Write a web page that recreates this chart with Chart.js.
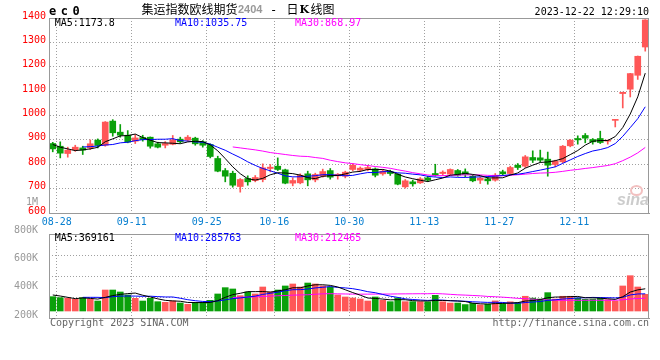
<!DOCTYPE html>
<html><head><meta charset="utf-8">
<script src="https://cdn.jsdelivr.net/npm/chart.js@4.4.0/dist/chart.umd.min.js"></script>
<style>
html,body{margin:0;padding:0;background:#fff;}
#wrap{position:relative;width:660px;height:360px;overflow:hidden;background:#fff;}
canvas{position:absolute;left:0;}
.t{position:absolute;white-space:pre;font-family:'DejaVu Sans Mono',monospace;font-size:10px;line-height:10px;color:#000;}
.cjk{position:absolute;white-space:pre;font-family:'Noto Sans CJK SC',sans-serif;font-size:12px;line-height:12px;color:#000;}
</style></head><body>
<div id="wrap">
<canvas id="kc" width="660" height="230" style="top:0;width:660px;height:230px"></canvas>
<canvas id="vc" width="660" height="150" style="top:190px;width:660px;height:150px"></canvas>
<div class="t" style="left:49px;top:5px;font-size:12px;line-height:12px;font-weight:bold;letter-spacing:4.5px">ec0</div>
<div class="cjk" style="left:141.5px;top:2.5px">集运指数欧线期货</div>
<div class="t" style="left:238px;top:4px;font-family:'Liberation Sans',sans-serif;font-size:11px;line-height:11px;font-weight:bold;color:#999">2404</div>
<div class="t" style="left:270px;top:4px;font-size:12px;line-height:12px">-</div>
<div class="cjk" style="left:286.5px;top:2.5px">日</div>
<div class="t" style="left:299.5px;top:3.5px;font-family:'DejaVu Serif',serif;font-size:11px;line-height:12px;font-weight:bold">K</div>
<div class="cjk" style="left:310.5px;top:2.5px">线图</div>
<div class="t" id="date" style="right:11px;top:6.5px"></div>
<div class="t" id="pl0" style="left:54.7px;top:18.2px"></div>
<div class="t" id="pl1" style="left:175px;top:18.2px;color:#0000ff"></div>
<div class="t" id="pl2" style="left:295px;top:18.2px;color:#ff00ff"></div>
<div class="t" id="vl0" style="left:54.7px;top:233.2px"></div>
<div class="t" id="vl1" style="left:175px;top:233.2px;color:#0000ff"></div>
<div class="t" id="vl2" style="left:295px;top:233.2px;color:#ff00ff"></div>
<div class="t" id="copy" style="left:50px;top:318.2px;color:#666"></div>
<div class="t" id="url" style="right:11px;top:318.2px;color:#666"></div>
<div style="position:absolute;left:630px;top:185px;width:9px;height:7px;border:2px solid #f2c0c0;border-radius:50%"></div>
<div class="t" style="left:617px;top:193px;font-family:'Liberation Sans',sans-serif;font-size:16px;line-height:14px;font-weight:bold;font-style:italic;color:#cccccc">sina</div>
</div>
<script>
const categories = ['08-25','08-28','08-29','08-30','08-31','09-01','09-04','09-05','09-06','09-07','09-08','09-11','09-12','09-13','09-14','09-15','09-18','09-19','09-20','09-21','09-22','09-25','09-26','09-27','09-28','10-09','10-10','10-11','10-12','10-13','10-16','10-17','10-18','10-19','10-20','10-23','10-24','10-25','10-26','10-27','10-30','10-31','11-01','11-02','11-03','11-06','11-07','11-08','11-09','11-10','11-13','11-14','11-15','11-16','11-17','11-20','11-21','11-22','11-23','11-24','11-27','11-28','11-29','11-30','12-01','12-04','12-05','12-06','12-07','12-08','12-11','12-12','12-13','12-14','12-15','12-18','12-19','12-20','12-21','12-22'];
const tickLabels = ['08-28','09-11','09-25','10-16','10-30','11-13','11-27','12-11'];
const priceTicks = [600,700,800,900,1000,1100,1200,1300,1400];
const volTickValues = [1000,800,600,400,200];
const volTickLabels = ['1M','800K','600K','400K','200K'];

const open = [885,874,844,859,867,867,899,878,977,931.6,919,894.7,909.7,911,883.8,878,882,903,899,907,892,881,823.6,774,763,708.7,741.5,733,737.4,782.6,792,777,722.4,723.8,760.7,736,751,774,752.3,751,778.5,775.7,778.5,781,760.7,770,759.3,707.3,727.9,723.8,744.3,762,762,759.3,774.3,769,751,734.7,740,734.7,769,762,796,792,827.7,826.3,820.8,799,810,875.6,905.6,918,901.5,905.6,894.7,980,1090,1108,1165,1281];
const high = [890,892,870,878,874,900,904,975,983,963,938,922,919,912,890.6,893,918,911,918,911,897,883.8,833,782.6,771.6,741.5,752.5,753.8,801.7,798.9,826,780,744.3,760.7,771.6,763.4,780,782.6,762,771.6,803,789,796,785,778.5,775.7,762,737.4,734.7,745.6,751,800,773,781,778.5,781,755,748.4,748.4,762,775.7,792,803,836,855,858,850,816.7,877,901.5,916.6,926,905.6,935.7,898.8,984,1096,1173,1244,1393];
const low = [851,826,829,853,840,860,867,874,915,911,888,885,894.7,866,867,867,879.6,886.5,894.7,878,870,826,769,727.9,706,685.5,714,727.9,727.9,768.9,774,719.7,711.5,719.7,711.5,727.9,747,738.8,738.8,744,773,770,773,748,755,754,715.5,702,710,721,729,751,754,755,751,748,728,721,718,730.6,753.8,756.6,778.5,786.7,807,808.5,751,789.4,806,871.5,882.4,888,882.4,885,882.4,953,1031,1076,1148,1264];
const close = [863,845.5,858,870,858,884,877,973,929,919,890.6,908,901.5,874,870,885,900,892,911,883.8,878,831.8,771.6,751,714,737.4,727.9,745.6,785.3,788,778.5,722.4,733.3,755,736,758,770,747,759,767.5,796,784,786.7,755,771.6,762,718.3,732,719.7,740,734.7,755,767.5,778.5,755,758,732,743,732,755.2,760.7,786.7,786.7,830.4,816.7,816.7,796,812.6,874,898.8,900,907,892,889.2,898.8,983,1095,1172,1243,1392];

const ma5 = [881,870,863,856,858.9,863.1,869.4,892.4,904.2,916.4,917.7,923.9,909.6,898.6,888.8,887.7,886.1,884.2,891.6,894.4,893,879.3,855.2,823.2,789.3,761.2,740.4,735.2,742,756.8,765.1,764,761.5,755.4,745,740.9,750.5,753.2,754,760.3,767.9,770.7,778.6,777.8,778.7,771.9,758.7,747.8,740.7,734.4,728.9,736.3,743.4,755.1,758.1,762.8,758.2,753.3,744,744,744.6,755.5,764.3,783.9,796.2,807.4,809.3,814.5,823.2,839.6,856.3,878.5,894.4,897.4,897.4,913.6,950.6,1006.2,1076.6,1173.8];
const ma10 = [null,null,null,null,871,872,875,879,881,887.7,890.4,896.7,901,901.4,902.6,902.7,905,896.9,895.1,891.6,890.3,882.7,869.7,857.4,841.8,827.1,809.9,795.2,782.6,773.1,763.1,752.2,748.3,748.7,750.9,753,757.2,757.4,754.7,752.7,754.4,760.6,765.9,765.9,769.5,769.9,764.7,763.2,759.3,756.5,750.4,747.5,745.6,747.9,746.3,745.9,747.2,748.3,749.6,751.1,753.7,756.9,758.8,764,770.1,776,782.4,789.4,803.6,817.9,831.9,843.9,854.4,860.3,868.5,884.9,914.5,950.3,987,1035.75];
const ma30 = [null,null,null,null,null,null,null,null,null,null,null,null,null,null,null,null,null,null,null,null,null,null,null,null,871,867,863,859,854,848,844,840,836,833,831.8,827.6,824,816.5,810.8,805.8,802.6,798.5,794.7,790.7,787.4,783.3,777.3,771.9,765.5,760.8,756,753.4,753.3,754.2,755.6,756.3,756.4,756.3,754.5,753.4,752.8,755,756.8,759.3,762,763.9,764.8,767,770.8,775.2,778.7,782.8,786.3,790.7,795,802.3,814.7,829.3,846.7,868.97];

// volume in thousands of lots
const volume = [238,222,211,194,222,199,166,349,349,316,266,211,166,211,155,144,166,133,111,144,144,177,283,388,366,255,316,283,399,316,349,416,449,399,465,449,416,399,266,233,216,199,166,233,177,155,216,155,155,155,153,260,153,132,132,107,128,102,112,168,122,153,138,245,214,199,305,199,245,245,216,194,199,216,188,166,416,587,399,277];
const vma5 = [266,249,227,205,217,210,198,226,257,276,289,298,262,234,202,177,168,162,142,140,140,142,172,227,272,294,322,322,324,314,333,353,386,386,416,436,436,426,399,353,306,263,216,209,198,186,189,187,172,167,167,176,175,171,166,157,130,120,116,123,126,131,139,165,174,190,220,232,232,239,242,220,220,214,203,193,237,315,351,369.161];
const vma10 = [null,null,null,null,227,227,227,222,238,247,249,248,244,246,239,233,233,212,188,171,159,155,167,185,206,217,232,247,276,293,313,337,354,355,365,384,394,406,392,384,371,349,321,304,275,246,226,202,191,183,176,183,181,171,167,162,153,148,143,145,142,131,129,141,149,158,176,186,199,207,216,220,226,223,221,217,228,267,283,285.763];
const vma30 = [null,null,null,null,null,null,null,null,null,null,null,null,null,null,null,null,null,null,null,null,null,null,null,null,225,228,232,236,242,248,253,258,263,267,270,278,286,288,285,283,281,280,280,281,282,282,284,285,286,287,287,290,285,277,269,264,258,252,242,237,230,221,210,205,197,189,185,178,178,178,178,178,179,178,179,179,186,200,208,212.465];

const priceLegend = ['MA5:1173.8','MA10:1035.75','MA30:868.97'];
const volLegend = ['MA5:369161','MA10:285763','MA30:212465'];
const headerDate = '2023-12-22 12:29:10';
const footer = ['Copyright 2023 SINA.COM','http://finance.sina.com.cn'];

document.getElementById('date').textContent = headerDate;
priceLegend.forEach((s,i)=>document.getElementById('pl'+i).textContent=s);
volLegend.forEach((s,i)=>document.getElementById('vl'+i).textContent=s);
document.getElementById('copy').textContent = footer[0];
document.getElementById('url').textContent = footer[1];

const UP = '#ff5757', DOWN = '#0aa00a', GRID = '#a0a0a0', FRAME = '#999999';
const colors = close.map((c,i)=> c >= open[i] ? UP : DOWN);
const wicks = low.map((l,i)=>[l, high[i]]);
const bodies = open.map((o,i)=>[o, close[i]]);

Chart.defaults.font.family = "'DejaVu Sans Mono', monospace";
Chart.defaults.font.size = 10;
Chart.defaults.animation = false;

const frame = {
  id:'frame',
  afterDraw(chart){
    const {ctx, chartArea:a} = chart;
    ctx.save();
    ctx.strokeStyle = FRAME; ctx.lineWidth = 1; ctx.setLineDash([]);
    ctx.strokeRect(Math.round(a.left)+0.5, Math.round(a.top)+0.5, Math.round(a.right-a.left)-1, Math.round(a.bottom-a.top));
    ctx.restore();
  }
};
const gridColorX = (ctx)=> (ctx.index !== undefined && tickLabels.includes(categories[ctx.index])) ? GRID : 'rgba(0,0,0,0)';
const lineDs = (label, data, color, axis)=>({type:'line', label, data, borderColor:color, borderWidth:1, pointRadius:0, tension:0, fill:false, spanGaps:false, order:0, yAxisID:axis});

new Chart(document.getElementById('kc'), {
  type:'bar',
  data:{
    labels:categories,
    datasets:[
      lineDs('MA5', ma5, '#000000', 'y'),
      lineDs('MA10', ma10, '#0000ff', 'y'),
      lineDs('MA30', ma30, '#ff00ff', 'y'),
      {label:'body', data:bodies, backgroundColor:colors, barThickness:6, minBarLength:1, grouped:false, order:1, yAxisID:'y'},
      {label:'wick', data:wicks, backgroundColor:colors, barThickness:1, minBarLength:1, grouped:false, order:2, yAxisID:'y'}
    ]
  },
  options:{
    responsive:false, devicePixelRatio:1, animation:false, events:[],
    layout:{padding:{top:18, right:11, left:0, bottom:0}},
    plugins:{legend:{display:false}, tooltip:{enabled:false}},
    scales:{
      x:{
        offset:true,
        grid:{offset:true, color:gridColorX, drawTicks:false, lineWidth:1},
        border:{color:FRAME, dash:[1,2]},
        ticks:{autoSkip:false, maxRotation:0, minRotation:0, padding:3, labelOffset:-3.5, color:'#0a80d0',
          callback:(v)=> tickLabels.includes(categories[v]) ? categories[v] : ''},
        afterFit:(s)=>{ s.height = 17; }
      },
      y:{
        min:600, max:1400,
        afterBuildTicks:(s)=>{ s.ticks = priceTicks.map(v=>({value:v})); },
        ticks:{color:'#ff0000', padding:3, labelOffset:-2, callback:(v)=> String(v)},
        grid:{color:GRID, drawTicks:false},
        border:{color:FRAME, dash:[1,2]},
        afterFit:(s)=>{ s.width = 49; }
      }
    }
  },
  plugins:[frame]
});

new Chart(document.getElementById('vc'), {
  type:'bar',
  data:{
    labels:categories,
    datasets:[
      lineDs('VMA5', vma5, '#000000', 'y'),
      lineDs('VMA10', vma10, '#0000ff', 'y'),
      lineDs('VMA30', vma30, '#ff00ff', 'y'),
      {label:'vol', data:volume, backgroundColor:colors, barThickness:6, grouped:false, order:1, yAxisID:'y'}
    ]
  },
  options:{
    responsive:false, devicePixelRatio:1, animation:false, events:[],
    layout:{padding:{top:44, right:11, left:0, bottom:0}},
    plugins:{legend:{display:false}, tooltip:{enabled:false}},
    scales:{
      x:{
        offset:true,
        grid:{offset:true, color:gridColorX, drawTicks:false, lineWidth:1},
        border:{color:FRAME, dash:[1,2]},
        ticks:{display:false, autoSkip:false},
        afterFit:(s)=>{ s.height = 22; }
      },
      y:{display:false, min:-116.3, max:1279.7},
      yl:{
        position:'left', min:178.3, max:773.2,
        afterBuildTicks:(s)=>{ s.ticks = volTickValues.map(v=>({value:v})); },
        ticks:{color:'#999999', padding:3, callback:(v,i)=> volTickLabels[i]},
        grid:{display:false},
        border:{display:false},
        afterFit:(s)=>{ s.width = 49; }
      },
      yg:{
        position:'right', min:0, max:4,
        ticks:{display:false, stepSize:1},
        grid:{color:GRID, drawTicks:false},
        border:{display:false, dash:[1,2]},
        afterFit:(s)=>{ s.width = 0; }
      }
    }
  },
  plugins:[frame]
});
</script>
</body></html>
